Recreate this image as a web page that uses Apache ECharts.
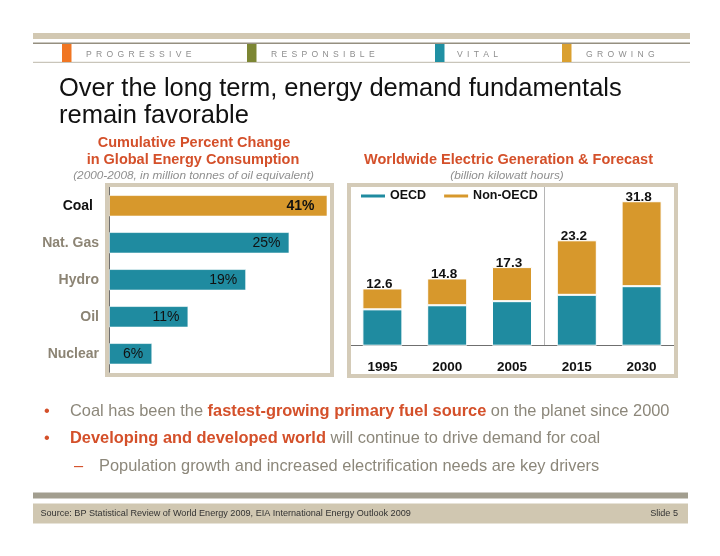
<!DOCTYPE html>
<html>
<head>
<meta charset="utf-8">
<script src="https://cdn.jsdelivr.net/npm/echarts@6/dist/echarts.min.js"></script>
<style>
html,body{margin:0;padding:0;background:#fff;}
#c{width:720px;height:556px;}
</style>
</head>
<body>
<div id="c"></div>
<script>
// ---- data ----
const fuelCategories = ['Coal', 'Nat. Gas', 'Hydro', 'Oil', 'Nuclear'];
const fuelPctChange = [41, 25, 19, 11, 6];
const years = ['1995', '2000', '2005', '2015', '2030'];
const oecd = [8.0, 8.9, 9.8, 11.2, 13.1];
const nonOecd = [4.6, 5.9, 7.5, 12.0, 18.7];
const totals = [12.6, 14.8, 17.3, 23.2, 31.8];
const headerWords = ['PROGRESSIVE', 'RESPONSIBLE', 'VITAL', 'GROWING'];

// ---- styles ----
const TEAL = '#1f8ba0', GOLD = '#d7982c', RED = '#d4502a', GRAYTXT = '#8c877a';
const FONT = 'Arial, "Liberation Sans", Helvetica, sans-serif';
const NARROW = '"Liberation Sans Narrow", "Arial Narrow", "Liberation Sans", Arial, sans-serif';

const chart = echarts.init(document.getElementById('c'), null, {renderer: 'canvas'});

function spaced(w) { return w.split('').join('\u2002'); }

const headerTabColors = ['#f07623', '#7c8633', '#2090a3', '#daa030'];
const headerTabX = [62, 247, 435, 562];
const headerTextX = [86, 271, 457, 586];

const BUL = '16.4px ' + FONT, BULB = 'bold 16.4px ' + FONT;

const graphics = [
  // header
  {type: 'rect', shape: {x: 33, y: 33, width: 657, height: 6}, style: {fill: '#d2c8b2'}},
  {type: 'rect', shape: {x: 33, y: 42.5, width: 657, height: 1.6}, style: {fill: '#958f80'}},
  {type: 'rect', shape: {x: 33, y: 61.8, width: 657, height: 1.2}, style: {fill: '#c9c5ba'}},
  // main title
  {type: 'text', x: 59, y: 89, style: {text: 'Over the long term, energy demand fundamentals', font: '25.5px ' + FONT, fill: '#111', textVerticalAlign: 'middle'}},
  {type: 'text', x: 59, y: 116, style: {text: 'remain favorable', font: '25.5px ' + FONT, fill: '#111', textVerticalAlign: 'middle'}},
  // left chart titles
  {type: 'text', x: 194, y: 142.5, style: {text: 'Cumulative Percent Change', font: 'bold 14.5px ' + FONT, fill: RED, textAlign: 'center', textVerticalAlign: 'middle'}},
  {type: 'text', x: 193, y: 159.5, style: {text: 'in Global Energy Consumption', font: 'bold 14.5px ' + FONT, fill: RED, textAlign: 'center', textVerticalAlign: 'middle'}},
  {type: 'text', x: 193.5, y: 175.5, style: {text: '(2000-2008, in million tonnes of oil equivalent)', font: 'italic 11.8px ' + FONT, fill: '#8f8f8f', textAlign: 'center', textVerticalAlign: 'middle'}},
  // right chart titles
  {type: 'text', x: 508.5, y: 160, style: {text: 'Worldwide Electric Generation & Forecast', font: 'bold 14.5px ' + FONT, fill: RED, textAlign: 'center', textVerticalAlign: 'middle'}},
  {type: 'text', x: 507, y: 175.5, style: {text: '(billion kilowatt hours)', font: 'italic 11.8px ' + FONT, fill: '#8f8f8f', textAlign: 'center', textVerticalAlign: 'middle'}},
  // chart frames
  {type: 'rect', z: 10, shape: {x: 107, y: 185, width: 225, height: 190}, style: {fill: null, stroke: '#d4cbb8', lineWidth: 4}},
  {type: 'rect', z: 10, shape: {x: 349, y: 185, width: 327, height: 191}, style: {fill: null, stroke: '#d4cbb8', lineWidth: 4}},
  // bullets
  {type: 'text', x: 44, y: 411, style: {text: '•', font: BUL, fill: RED, textVerticalAlign: 'middle'}},
  {type: 'text', x: 70, y: 411, style: {
    text: '{n|Coal has been the }{b|fastest-growing primary fuel source}{n| on the planet since 2000}',
    textVerticalAlign: 'middle',
    rich: {n: {font: BUL, fill: GRAYTXT}, b: {font: BULB, fill: RED}}}},
  {type: 'text', x: 44, y: 438, style: {text: '•', font: BUL, fill: RED, textVerticalAlign: 'middle'}},
  {type: 'text', x: 70, y: 438, style: {
    text: '{b|Developing and developed world}{n| will continue to drive demand for coal}',
    textVerticalAlign: 'middle',
    rich: {n: {font: BUL, fill: GRAYTXT}, b: {font: BULB, fill: RED}}}},
  {type: 'text', x: 74, y: 466, style: {text: '–', font: BUL, fill: RED, textVerticalAlign: 'middle'}},
  {type: 'text', x: 99, y: 466, style: {text: 'Population growth and increased electrification needs are key drivers', font: BUL, fill: GRAYTXT, textVerticalAlign: 'middle'}},
  // footer
  {type: 'rect', shape: {x: 33, y: 492.5, width: 655, height: 6}, style: {fill: '#a29e8f'}},
  {type: 'rect', shape: {x: 33, y: 503.5, width: 655, height: 20}, style: {fill: '#d0c7b1'}},
  {type: 'text', x: 40.5, y: 513.5, style: {text: 'Source: BP Statistical Review of World Energy 2009, EIA International Energy Outlook 2009', font: '9.1px ' + FONT, fill: '#333', textVerticalAlign: 'middle'}},
  {type: 'text', x: 678, y: 513.5, style: {text: 'Slide 5', font: '9.1px ' + FONT, fill: '#333', textAlign: 'right', textVerticalAlign: 'middle'}}
];
headerWords.forEach((w, i) => {
  graphics.push({type: 'rect', shape: {x: headerTabX[i], y: 44, width: 9.5, height: 18}, style: {fill: headerTabColors[i]}});
  graphics.push({type: 'text', x: headerTextX[i], y: 54.5, style: {text: spaced(w), font: '8.6px ' + FONT, fill: '#8e8e8e', textVerticalAlign: 'middle'}});
});

const option = {
  backgroundColor: '#fff',
  animation: false,
  textStyle: {fontFamily: FONT},
  graphic: graphics,
  legend: {
    left: 361, top: 189.5, padding: 0, itemWidth: 24, itemHeight: 3, itemGap: 18, icon: 'rect',
    data: ['OECD', 'Non-OECD'],
    itemStyle: {borderWidth: 0},
    textStyle: {fontFamily: FONT, fontWeight: 'bold', fontSize: 12.5, color: '#111'}
  },
  grid: [
    {left: 109, top: 187.3, width: 218, height: 185, containLabel: false},
    {left: 350, top: 186.7, width: 324, height: 159, containLabel: false}
  ],
  xAxis: [
    {type: 'value', gridIndex: 0, min: 0, max: 30.2, show: false},
    {type: 'category', gridIndex: 1, data: years,
      axisLine: {lineStyle: {color: '#6f6f6f', width: 1}},
      axisTick: {show: false},
      axisLabel: {margin: 15, fontFamily: NARROW, fontWeight: 'bold', fontSize: 13.5, color: '#111'},
      splitLine: {show: true, interval: function (idx) { return idx === 0 || idx === 3; }, lineStyle: {color: '#b5b5b5', width: 1}}
    }
  ],
  yAxis: [
    {type: 'category', gridIndex: 0, inverse: true, data: fuelCategories,
      axisLine: {lineStyle: {color: '#6f6f6f', width: 1}},
      axisTick: {show: false},
      axisLabel: {margin: 10,
        formatter: function (v, i) { return i === 0 ? '{c|' + v + '}' : '{o|' + v + '}'; },
        rich: {
          c: {fontFamily: FONT, fontWeight: 'bold', fontSize: 14, color: '#111', padding: [0, 6, 0, 0]},
          o: {fontFamily: FONT, fontWeight: 'bold', fontSize: 14, color: '#8c8474'}
        }
      }
    },
    {type: 'value', gridIndex: 1, min: 0, max: 35, show: false}
  ],
  series: [
    {
      type: 'bar', xAxisIndex: 0, yAxisIndex: 0, barWidth: 21.5, clip: true,
      data: fuelPctChange.map((v, i) => ({
        value: v,
        itemStyle: {color: i === 0 ? GOLD : TEAL},
        label: {fontWeight: i === 0 ? 'bold' : 'normal', distance: i === 0 ? 13 : 9}
      })),
      itemStyle: {borderColor: 'rgba(255,255,255,0.6)', borderWidth: 1},
      label: {show: true, position: 'insideRight', distance: 9, fontFamily: FONT, fontSize: 14, color: '#111',
        formatter: function (p) { return p.value + '%'; }}
    },
    {
      name: 'OECD', type: 'bar', xAxisIndex: 1, yAxisIndex: 1, stack: 'gen', barWidth: 40,
      data: oecd, itemStyle: {color: TEAL, borderColor: '#fff', borderWidth: 1}
    },
    {
      name: 'Non-OECD', type: 'bar', xAxisIndex: 1, yAxisIndex: 1, stack: 'gen', barWidth: 40,
      data: nonOecd, itemStyle: {color: GOLD, borderColor: '#fff', borderWidth: 1},
      label: {show: true, position: 'top', distance: -3, offset: [-3, 0], fontFamily: NARROW, fontWeight: 'bold', fontSize: 13.5, color: '#111',
        formatter: function (p) { return totals[p.dataIndex].toFixed(1); }}
    }
  ]
};
chart.setOption(option);
</script>
</body>
</html>
